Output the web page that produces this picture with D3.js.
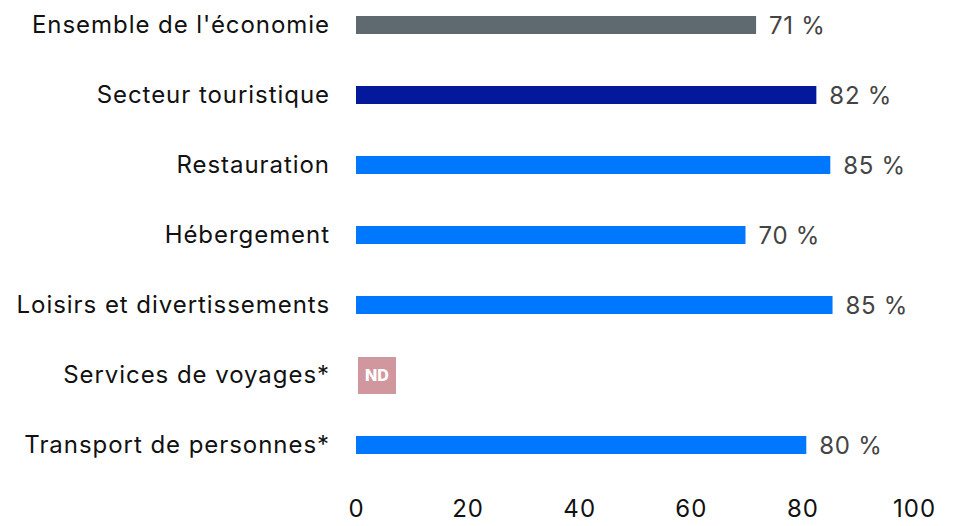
<!DOCTYPE html>
<html><head><meta charset="utf-8">
<script src="https://cdn.jsdelivr.net/npm/d3@7/dist/d3.min.js"></script>
<style>body{margin:0;background:#fff}svg{display:block}</style>
</head><body><svg id="c" width="953" height="526"></svg>
<script>
const categories = ["Ensemble de l'économie","Secteur touristique","Restauration","Hébergement","Loisirs et divertissements","Services de voyages*","Transport de personnes*"];
const values = [71.7, 82.5, 85.0, 69.8, 85.4, null, 80.7];
const valueLabels = ["71 %","82 %","85 %","70 %","85 %","ND","80 %"];
const barColors = ["#5f6a70","#03189a","#0077ff","#0077ff","#0077ff","#d1979f","#0077ff"];
const ticks = [0,20,40,60,80,100];

const svg = d3.select("#c");
const x = d3.scaleLinear().domain([0,100]).range([356,914]);
const y = d3.scalePoint().domain(categories).range([25,445]);
const barH = 18;

svg.selectAll("rect.bar").data(categories.filter((c,i)=>values[i]!=null)).join("rect")
  .attr("x", x(0)).attr("y", d=>y(d)-barH/2)
  .attr("width", d=>x(values[categories.indexOf(d)])-x(0)).attr("height", barH)
  .attr("fill", d=>barColors[categories.indexOf(d)]);

svg.selectAll("text.cat").data(categories).join("text")
  .attr("x",330).attr("y",d=>y(d)).attr("dy","0.35em").attr("text-anchor","end")
  .attr("font-family","Inter").attr("font-size",24).attr("letter-spacing","0.95px")
  .attr("fill","#111").text(d=>d);

categories.forEach((c,i)=>{
  if(values[i]!=null){
    svg.append("text").attr("x",x(values[i])+13).attr("y",y(c)).attr("dy","0.36em")
      .attr("font-family","Inter").attr("font-size",24).attr("letter-spacing","0.7px").attr("fill","#444").text(valueLabels[i]);
  } else {
    svg.append("rect").attr("x",x(0)+2).attr("y",y(c)-18).attr("width",38).attr("height",37).attr("fill",barColors[i]);
    svg.append("text").attr("x",x(0)+21).attr("y",y(c)).attr("dy","0.36em").attr("text-anchor","middle")
      .attr("font-family","Inter").attr("font-weight",800).attr("font-size",16).attr("fill","#fff").text(valueLabels[i]);
  }
});

const ax = svg.append("g").attr("transform","translate(0,488)")
  .call(d3.axisBottom(x).tickValues(ticks).tickSize(0).tickPadding(12));
ax.select(".domain").remove();
ax.selectAll("text").attr("font-family","Inter").attr("font-size",24).attr("letter-spacing","1px").attr("fill","#111");
</script></body></html>
